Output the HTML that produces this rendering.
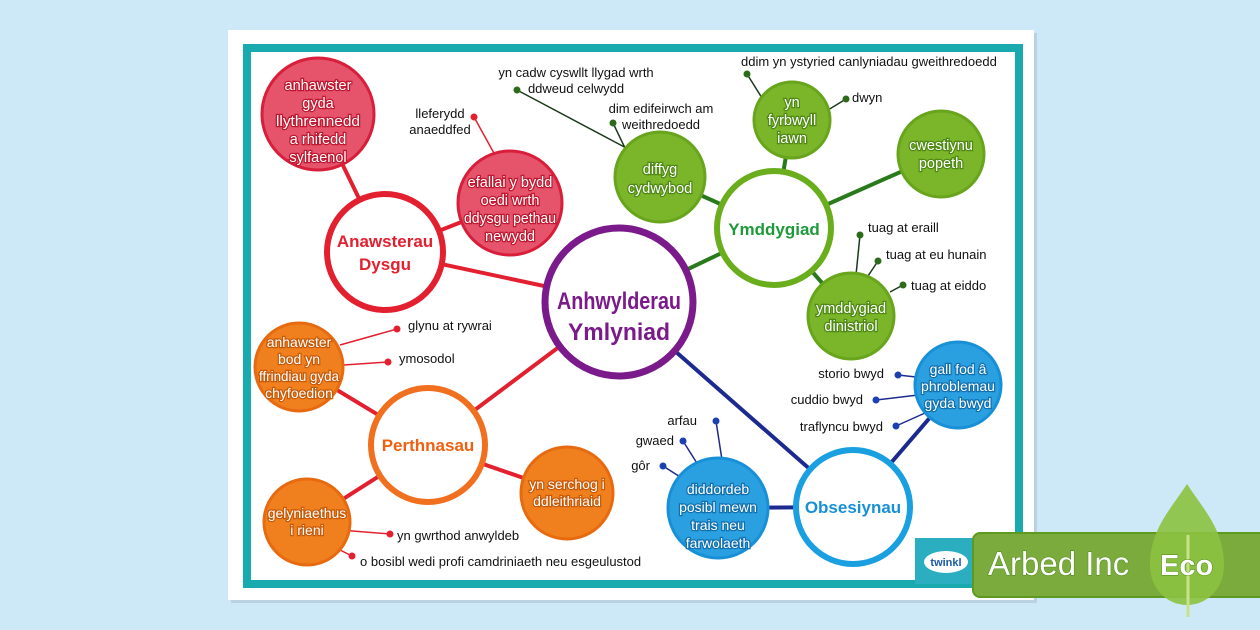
<!DOCTYPE html>
<html><head><meta charset="utf-8"><style>
html,body{margin:0;padding:0;background:#cde9f7;width:1260px;height:630px;overflow:hidden}
svg{display:block}
text{font-family:"Liberation Sans",sans-serif}
.s{font-size:13px;fill:#111}
.w{font-size:14.5px;fill:#fff;text-anchor:middle;paint-order:stroke;stroke-width:2.5px}
</style></head><body>
<svg width="1260" height="630" viewBox="0 0 1260 630">
<rect x="231" y="33" width="806" height="570" fill="#9ab" opacity="0.35"/>
<rect x="228" y="30" width="806" height="570" fill="#fff"/>
<rect x="247" y="48" width="772" height="536" fill="none" stroke="#19aab0" stroke-width="8"/>
<g stroke-width="4" fill="none">
<line x1="619" y1="302" x2="385" y2="252" stroke="#e3202f"/>
<line x1="385" y1="252" x2="318" y2="114" stroke="#e3202f"/>
<line x1="385" y1="252" x2="510" y2="203" stroke="#e3202f"/>
<line x1="619" y1="302" x2="428" y2="445" stroke="#e3202f"/>
<line x1="428" y1="445" x2="299" y2="367" stroke="#e3202f"/>
<line x1="428" y1="445" x2="307" y2="522" stroke="#e3202f"/>
<line x1="428" y1="445" x2="567" y2="493" stroke="#e3202f"/>
<line x1="619" y1="302" x2="774" y2="228" stroke="#2a7a1c"/>
<line x1="774" y1="228" x2="660" y2="177" stroke="#2a7a1c"/>
<line x1="774" y1="228" x2="792" y2="120" stroke="#2a7a1c"/>
<line x1="774" y1="228" x2="941" y2="154" stroke="#2a7a1c"/>
<line x1="774" y1="228" x2="851" y2="316" stroke="#2a7a1c"/>
<line x1="619" y1="302" x2="853" y2="507" stroke="#1c2a90"/>
<line x1="853" y1="507" x2="958" y2="385" stroke="#1c2a90"/>
<line x1="853" y1="507" x2="718" y2="508" stroke="#1c2a90"/>
</g>
<g stroke-width="1.5" fill="none">
<g stroke="#e3202f">
<line x1="474" y1="117" x2="495" y2="155"/>
<line x1="397" y1="329" x2="340" y2="345"/>
<line x1="388" y1="362" x2="344" y2="365"/>
<line x1="390" y1="534" x2="340" y2="530"/>
<line x1="352" y1="556" x2="330" y2="545"/>
</g>
<g stroke="#1c3a1c">
<line x1="517" y1="90" x2="630" y2="150"/>
<line x1="613" y1="123" x2="625" y2="148"/>
<line x1="747" y1="74" x2="762" y2="98"/>
<line x1="846" y1="99" x2="828" y2="110"/>
<line x1="860" y1="235" x2="856" y2="275"/>
<line x1="878" y1="261" x2="868" y2="276"/>
<line x1="903" y1="285" x2="890" y2="292"/>
</g>
<g stroke="#1c2a90">
<line x1="898" y1="375" x2="916" y2="377"/>
<line x1="876" y1="400" x2="918" y2="395"/>
<line x1="896" y1="426" x2="925" y2="413"/>
<line x1="716" y1="421" x2="722" y2="460"/>
<line x1="683" y1="441" x2="700" y2="468"/>
<line x1="663" y1="466" x2="685" y2="480"/>
</g>
</g>
<g fill="#e3202f"><circle cx="474" cy="117" r="3.5"/><circle cx="397" cy="329" r="3.5"/><circle cx="388" cy="362" r="3.5"/><circle cx="390" cy="534" r="3.5"/><circle cx="352" cy="556" r="3.5"/></g>
<g fill="#2d6a1a"><circle cx="517" cy="90" r="3.5"/><circle cx="613" cy="123" r="3.5"/><circle cx="747" cy="74" r="3.5"/><circle cx="846" cy="99" r="3.5"/><circle cx="860" cy="235" r="3.5"/><circle cx="878" cy="261" r="3.5"/><circle cx="903" cy="285" r="3.5"/></g>
<g fill="#1c40b0"><circle cx="898" cy="375" r="3.5"/><circle cx="876" cy="400" r="3.5"/><circle cx="896" cy="426" r="3.5"/><circle cx="716" cy="421" r="3.5"/><circle cx="683" cy="441" r="3.5"/><circle cx="663" cy="466" r="3.5"/></g>
<g stroke-width="3">
<circle cx="318" cy="114" r="56" fill="#e5546b" stroke="#d81e3a"/>
<circle cx="510" cy="203" r="52" fill="#e5546b" stroke="#d81e3a"/>
<circle cx="299" cy="367" r="44" fill="#f0801e" stroke="#e86a10"/>
<circle cx="307" cy="522" r="43" fill="#f0801e" stroke="#e86a10"/>
<circle cx="567" cy="493" r="46" fill="#f0801e" stroke="#e86a10"/>
<circle cx="660" cy="177" r="45" fill="#7ab52a" stroke="#68a41c"/>
<circle cx="792" cy="120" r="38" fill="#7ab52a" stroke="#68a41c"/>
<circle cx="941" cy="154" r="43" fill="#7ab52a" stroke="#68a41c"/>
<circle cx="851" cy="316" r="43" fill="#7ab52a" stroke="#68a41c"/>
<circle cx="958" cy="385" r="43" fill="#2aa0e0" stroke="#1890d8"/>
<circle cx="718" cy="508" r="50" fill="#2aa0e0" stroke="#1890d8"/>
</g>
<circle cx="385" cy="252" r="58" fill="#fff" stroke="#e3202f" stroke-width="6"/>
<circle cx="428" cy="445" r="57" fill="#fff" stroke="#f07020" stroke-width="6"/>
<circle cx="774" cy="228" r="57" fill="#fff" stroke="#6aae1e" stroke-width="6"/>
<circle cx="853" cy="507" r="57" fill="#fff" stroke="#1aa0e0" stroke-width="6"/>
<circle cx="619" cy="302" r="74" fill="#fff" stroke="#7b1a8a" stroke-width="7"/>
<text x="619" y="309" text-anchor="middle" font-size="24" font-weight="bold" fill="#7b1a8a" textLength="124" lengthAdjust="spacingAndGlyphs">Anhwylderau</text>
<text x="619" y="340" text-anchor="middle" font-size="24" font-weight="bold" fill="#7b1a8a" textLength="102" lengthAdjust="spacingAndGlyphs">Ymlyniad</text>
<text x="385" y="247" text-anchor="middle" font-size="17" font-weight="bold" fill="#e3202f">Anawsterau</text>
<text x="385" y="270" text-anchor="middle" font-size="17" font-weight="bold" fill="#e3202f">Dysgu</text>
<text x="428" y="451" text-anchor="middle" font-size="17" font-weight="bold" fill="#f06010">Perthnasau</text>
<text x="774" y="235" text-anchor="middle" font-size="17" font-weight="bold" fill="#1e9a3a">Ymddygiad</text>
<text x="853" y="513" text-anchor="middle" font-size="17" font-weight="bold" fill="#1890d8">Obsesiynau</text>
<g class="w" stroke="#c01830">
<text x="318" y="90">anhawster</text><text x="318" y="108">gyda</text><text x="318" y="126" textLength="84" lengthAdjust="spacingAndGlyphs">llythrennedd</text><text x="318" y="144">a rhifedd</text><text x="318" y="162">sylfaenol</text>
<text x="510" y="187">efallai y bydd</text><text x="510" y="205">oedi wrth</text><text x="510" y="223" textLength="92" lengthAdjust="spacingAndGlyphs">ddysgu pethau</text><text x="510" y="241">newydd</text>
</g>
<g class="w" stroke="#c85a08" style="font-size:14px">
<text x="299" y="347">anhawster</text><text x="299" y="364">bod yn</text><text x="299" y="381" textLength="80" lengthAdjust="spacingAndGlyphs">ffrindiau gyda</text><text x="299" y="398">chyfoedion</text>
<text x="307" y="518">gelyniaethus</text><text x="307" y="535">i rieni</text>
<text x="567" y="489">yn serchog i</text><text x="567" y="506">ddleithriaid</text>
</g>
<g class="w" stroke="#4f8a14">
<text x="660" y="174">diffyg</text><text x="660" y="193">cydwybod</text>
<text x="792" y="107">yn</text><text x="792" y="125">fyrbwyll</text><text x="792" y="143">iawn</text>
<text x="941" y="150">cwestiynu</text><text x="941" y="168">popeth</text>
<text x="851" y="313">ymddygiad</text><text x="851" y="331">dinistriol</text>
</g>
<g class="w" stroke="#1070b0" style="font-size:14px">
<text x="958" y="374">gall fod â</text><text x="958" y="391">phroblemau</text><text x="958" y="408">gyda bwyd</text>
<text x="718" y="494">diddordeb</text><text x="718" y="512">posibl mewn</text><text x="718" y="530">trais neu</text><text x="718" y="548">farwolaeth</text>
</g>
<g class="s">
<text x="440" y="118" text-anchor="middle">lleferydd</text><text x="440" y="134" text-anchor="middle">anaeddfed</text>
<text x="576" y="77" text-anchor="middle">yn cadw cyswllt llygad wrth</text><text x="576" y="93" text-anchor="middle">ddweud celwydd</text>
<text x="661" y="113" text-anchor="middle">dim edifeirwch am</text><text x="661" y="129" text-anchor="middle">weithredoedd</text>
<text x="741" y="66">ddim yn ystyried canlyniadau gweithredoedd</text>
<text x="852" y="102">dwyn</text>
<text x="868" y="232">tuag at eraill</text>
<text x="886" y="259">tuag at eu hunain</text>
<text x="911" y="290">tuag at eiddo</text>
<text x="408" y="330">glynu at rywrai</text>
<text x="399" y="363">ymosodol</text>
<text x="397" y="540">yn gwrthod anwyldeb</text>
<text x="360" y="566">o bosibl wedi profi camdriniaeth neu esgeulustod</text>
<text x="884" y="378" text-anchor="end">storio bwyd</text>
<text x="863" y="404" text-anchor="end">cuddio bwyd</text>
<text x="883" y="431" text-anchor="end">traflyncu bwyd</text>
<text x="697" y="425" text-anchor="end">arfau</text>
<text x="674" y="445" text-anchor="end">gwaed</text>
<text x="650" y="470" text-anchor="end">gôr</text>
</g>
<rect x="915" y="538" width="62" height="46" fill="#2aaec0"/>
<ellipse cx="946" cy="562" rx="22" ry="11" fill="#fff"/>
<text x="946" y="566" text-anchor="middle" font-size="11" font-weight="bold" fill="#1a5aa8">twinkl</text>
<rect x="973" y="533" width="300" height="64" rx="7" fill="#7aab3c" stroke="#5e9a20" stroke-width="2"/>
<path d="M1187 484 C1170 510 1150 530 1150 565 C1150 590 1168 605 1187 605 C1206 605 1224 590 1224 565 C1224 530 1204 510 1187 484Z" fill="#8cc240" opacity="0.9"/>
<line x1="1188" y1="535" x2="1188" y2="617" stroke="#c6e28a" stroke-width="3"/>
<text x="988" y="575" font-size="33" fill="#fff" stroke="#4a8a14" stroke-width="1" paint-order="stroke">Arbed Inc</text>
<text x="1160" y="575" font-size="29" font-weight="bold" fill="#fff" stroke="#4a8a14" stroke-width="1" paint-order="stroke">Eco</text>
</svg>
</body></html>
